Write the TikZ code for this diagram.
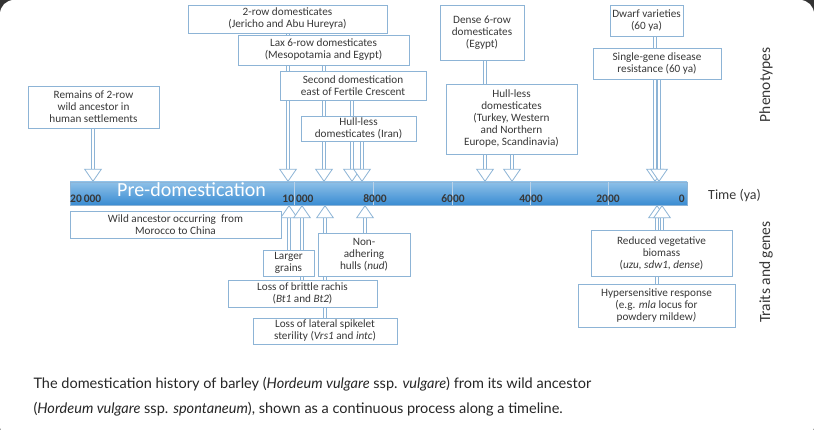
\documentclass[tikz,border=0pt]{standalone}
\usepackage{fontspec}
\setmainfont{Carlito}
\newfontfamily\capfont{Lato}
\usetikzlibrary{arrows.meta}
\definecolor{boxblue}{HTML}{8DB4D6}
\definecolor{txtgray}{HTML}{383838}
\definecolor{bartop}{HTML}{8DC0E8}
\definecolor{barbot}{HTML}{3A8CD2}
\tikzset{
  evbox/.style={draw=boxblue, fill=white, line width=0.8pt, align=center, inner sep=0pt,
    text=txtgray, font=\fontsize{11.2}{12}\selectfont},
  harrow/.style={draw=white, line width=1.8pt,
    -{Triangle[color=boxblue, fill=white, line width=0.8pt, length=11pt, width=15pt, scale=1.2]},
    preaction={draw=boxblue, line width=3.4pt, -, shorten >=11pt}},
  ticklab/.style={text=txtgray, font=\fontsize{11.5}{12}\selectfont\bfseries, inner sep=0pt}
}
\begin{document}
\begin{tikzpicture}[x=1pt, y=-1pt]
\useasboundingbox (0,0) rectangle (814,430);
% card background
\fill[black!80] (0,0) rectangle (814,430);
\fill[white, rounded corners=14pt] (0,0) rectangle (814,440);
% timeline bar
\node[minimum width=617pt, minimum height=23pt, inner sep=0pt, top color=bartop, bottom color=barbot,
  draw=boxblue] (bar) at (378.5,193.5) {};
\foreach \x in {294,373,452,530,608}
  \draw[boxblue!60] (\x,182) -- (\x,205);
\node[text=white, font=\fontsize{20}{22}\selectfont, anchor=west, inner sep=0pt] (predom) at (117,190) {Pre-domestication};
\node[ticklab, anchor=west] (t20) at (70,199) {20\,000};
\node[ticklab] (t10) at (298,199) {10\,000};
\node[ticklab] (t8) at (375,199) {8000};
\node[ticklab] (t6) at (453,199) {6000};
\node[ticklab] (t4) at (531,199) {4000};
\node[ticklab] (t2) at (608,199) {2000};
\node[ticklab, anchor=east] (t0) at (685,199) {0};
\node[text=txtgray, font=\fontsize{14}{14}\selectfont, anchor=west, inner sep=0pt] (time) at (708,196) {Time (ya)};
\node[text=txtgray, font=\fontsize{15.5}{16}\selectfont, rotate=90] (pheno) at (766,85) {Phenotypes};
\node[text=txtgray, font=\fontsize{15.5}{16}\selectfont, rotate=90] (traits) at (766,272) {Traits and genes};
% arrows above the bar
\coordinate (a1) at (93,182);
\coordinate (a2) at (288,182);
\coordinate (a3) at (324,182);
\coordinate (a4) at (352,182);
\coordinate (a5) at (362,182);
\coordinate (a6) at (485,182);
\coordinate (a7) at (512,182);
\coordinate (a8) at (655,182);
\coordinate (a9) at (659,182);
\draw[harrow] (93,128) -- (a1);
\draw[harrow] (288,33) -- (a2);
\draw[harrow] (324,65) -- (a3);
\draw[harrow] (352,100) -- (a4);
\draw[harrow] (362,141) -- (a5);
\draw[harrow] (485,60) -- (a6);
\draw[harrow] (512,154) -- (a7);
\draw[harrow] (655,36) -- (a8);
\draw[harrow] (659,79) -- (a9);
% arrows below the bar
\coordinate (b1) at (289,205);
\coordinate (b2) at (302,205);
\coordinate (b3) at (325,205);
\coordinate (b4) at (365,205);
\coordinate (b5) at (657,205);
\coordinate (b6) at (662,205);
\draw[harrow] (289,250) -- (b1);
\draw[harrow] (302,280) -- (b2);
\draw[harrow] (325,318) -- (b3);
\draw[harrow] (365,233) -- (b4);
\draw[harrow] (657,284) -- (b5);
\draw[harrow] (662,230) -- (b6);
% phenotype boxes
\node[evbox, minimum width=199pt, minimum height=28pt] (tworow) at (287.5,19) {2-row domesticates\\(Jericho and Abu Hureyra)};
\node[evbox, minimum width=171pt, minimum height=30pt] (lax) at (323.5,50) {Lax 6-row domesticates\\(Mesopotamia and Egypt)};
\node[evbox, minimum width=146pt, minimum height=29pt] (second) at (353,85.5) {Second domestication\\east of Fertile Crescent};
\node[evbox, minimum width=115pt, minimum height=25pt] (iran) at (358.5,128.5) {Hull-less\\domesticates (Iran)};
\node[evbox, minimum width=131pt, minimum height=42pt] (remains) at (93.5,107) {Remains of 2-row\\wild ancestor in\\human settlements};
\node[evbox, minimum width=84pt, minimum height=55pt] (dense) at (482,32.5) {Dense 6-row\\domesticates\\(Egypt)};
\node[evbox, minimum width=131pt, minimum height=70pt] (turkey) at (511.5,119) {Hull-less\\domesticates\\(Turkey, Western\\and Northern\\Europe, Scandinavia)};
\node[evbox, minimum width=73pt, minimum height=31pt] (dwarf) at (646.5,20.5) {Dwarf varieties\\(60 ya)};
\node[evbox, minimum width=128pt, minimum height=31pt] (single) at (657,63.5) {Single-gene disease\\resistance (60 ya)};
% trait boxes
\node[evbox, minimum width=211pt, minimum height=27pt] (wild) at (175.5,224.5) {Wild ancestor occurring\ \ from\\Morocco to China};
\node[evbox, minimum width=51pt, minimum height=26pt] (grains) at (288.5,263) {Larger\\grains};
\node[evbox, minimum width=92pt, minimum height=43pt] (hulls) at (364,254.5) {Non-\\adhering\\hulls (\textit{nud})};
\node[evbox, minimum width=149pt, minimum height=27pt] (rachis) at (302.5,293.5) {Loss of brittle rachis\\(\textit{Bt1} and \textit{Bt2})};
\node[evbox, minimum width=144pt, minimum height=26pt] (spikelet) at (325,331) {Loss of lateral spikelet\\sterility (\textit{Vrs1} and \textit{intc})};
\node[evbox, minimum width=141pt, minimum height=46pt] (biomass) at (661.5,253) {Reduced vegetative\\biomass\\(\textit{uzu, sdw1, dense})};
\node[evbox, minimum width=157pt, minimum height=43pt] (hyper) at (656.5,305.5) {Hypersensitive response\\(e.g. \textit{mla} locus for\\powdery mildew\textit{)}};
% caption
\node[anchor=north west, align=left, text=black!85, font=\capfont\fontsize{14.5}{25}\selectfont] (caption) at (30,374)
  {The domestication history of barley (\textit{Hordeum vulgare} ssp. \textit{vulgare}) from its wild ancestor\\(\textit{Hordeum vulgare} ssp. \textit{spontaneum}), shown as a continuous process along a timeline.};
\end{tikzpicture}
\end{document}
